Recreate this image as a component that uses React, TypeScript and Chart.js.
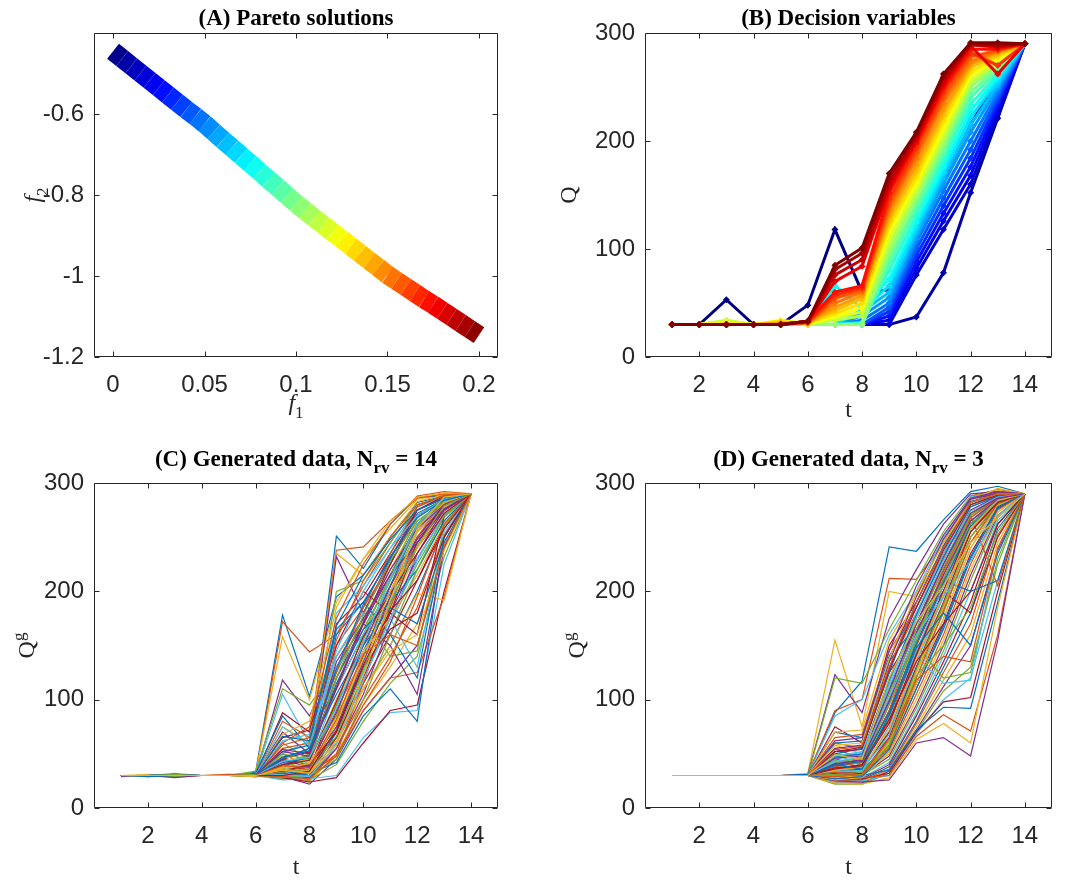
import React, { useEffect, useRef } from "react";
import { Chart, registerables } from "chart.js";

Chart.register(...registerables);

// ---------------- DATA ----------------
// (A) Pareto front: f1 and f2 of the solutions (read along the band)
const PARETO_F1 = [
  0, 0.005, 0.01, 0.015, 0.02, 0.025, 0.03, 0.035, 0.04, 0.045,
  0.05, 0.055, 0.06, 0.065, 0.07, 0.075, 0.08, 0.085, 0.09, 0.095,
  0.1, 0.105, 0.11, 0.115, 0.12, 0.125, 0.13, 0.135, 0.14, 0.145,
  0.15, 0.155, 0.16, 0.165, 0.17, 0.175, 0.18, 0.185, 0.19, 0.195, 0.2,
];
const PARETO_F2 = [
  -0.445, -0.463, -0.481, -0.499, -0.517, -0.535, -0.553, -0.571, -0.589, -0.606,
  -0.624, -0.644, -0.664, -0.683, -0.703, -0.722, -0.742, -0.762, -0.781, -0.801,
  -0.821, -0.839, -0.857, -0.874, -0.892, -0.909, -0.927, -0.944, -0.962, -0.979,
  -0.997, -1.012, -1.027, -1.042, -1.057, -1.071, -1.086, -1.101, -1.116, -1.131, -1.146,
];

const A_X_TICKS = [0, 0.05, 0.1, 0.15, 0.2];
const A_Y_TICKS = [-1.2, -1, -0.8, -0.6];
const T_STEPS = [1, 2, 3, 4, 5, 6, 7, 8, 9, 10, 11, 12, 13, 14];
const T_TICKS = [2, 4, 6, 8, 10, 12, 14];
const Q_TICKS = [0, 100, 200, 300];

// (B) Decision variables, ordered from the first (blue) to the last (dark red) Pareto solution
const DECISION_Q = [
  [30, 30, 53, 30, 30, 48, 118, 60, 62, 110, 165, 215, 258, 290],
  [30, 30, 30, 30, 30, 30, 30, 30, 30, 37, 78, 152, 221, 290],
  [30, 30, 30, 30, 30, 30, 30, 30, 30, 76, 118, 160, 225, 290],
  [30, 30, 30, 30, 30, 30, 30, 30, 34, 82, 126, 168, 229, 290],
  [30, 30, 30, 30, 30, 30, 30, 30, 38, 88, 133, 176, 233, 290],
  [30, 30, 30, 30, 30, 30, 30, 30, 42, 94, 140, 184, 237, 290],
  [30, 30, 30, 30, 30, 30, 30, 30, 46, 100, 147, 192, 241, 290],
  [30, 30, 30, 30, 30, 30, 30, 34, 50, 106, 154, 200, 245, 290],
  [30, 30, 30, 30, 30, 30, 30, 38, 55, 110, 160, 208, 249, 290],
  [30, 30, 30, 30, 30, 30, 30, 42, 60, 115, 166, 215, 252, 290],
  [30, 30, 30, 30, 30, 30, 30, 44, 66, 120, 171, 222, 256, 290],
  [30, 30, 30, 30, 30, 30, 66, 45, 72, 125, 176, 228, 259, 290],
  [30, 30, 30, 30, 30, 30, 30, 32, 80, 131, 182, 234, 262, 290],
  [30, 30, 31, 30, 30, 30, 30, 30, 86, 137, 187, 240, 265, 290],
  [30, 30, 32, 30, 30, 30, 30, 30, 92, 142, 192, 245, 268, 290],
  [30, 30, 33, 30, 31, 30, 30, 30, 98, 148, 197, 250, 270, 290],
  [30, 30, 34, 30, 32, 30, 34, 38, 104, 152, 202, 254, 272, 290],
  [30, 30, 33, 30, 33, 30, 36, 42, 110, 156, 207, 257, 274, 290],
  [30, 30, 32, 30, 34, 31, 38, 46, 116, 161, 212, 261, 276, 290],
  [30, 30, 31, 30, 33, 31, 40, 50, 121, 166, 218, 264, 278, 290],
  [30, 30, 30, 30, 32, 31, 43, 54, 126, 172, 224, 268, 280, 290],
  [30, 30, 30, 30, 31, 32, 46, 57, 131, 178, 229, 271, 282, 290],
  [30, 30, 30, 30, 30, 32, 50, 60, 136, 184, 235, 274, 283, 290],
  [30, 30, 30, 30, 30, 32, 54, 62, 141, 189, 240, 278, 284, 290],
  [30, 30, 30, 30, 30, 32, 57, 64, 146, 194, 245, 282, 270, 290],
  [30, 30, 30, 30, 30, 33, 60, 66, 152, 198, 249, 285, 285, 290],
  [30, 30, 30, 30, 30, 33, 70, 84, 156, 200, 252, 288, 262, 290],
  [30, 30, 30, 30, 30, 33, 76, 90, 160, 203, 255, 289, 287, 290],
  [30, 30, 30, 30, 30, 33, 81, 96, 165, 206, 259, 290, 289, 290],
  [30, 30, 30, 30, 30, 33, 85, 101, 170, 208, 262, 291, 291, 290],
];

// (C) Generated data, N_rv = 14
const GEN_Q_NRV14 = [
  [30, 30, 30, 30, 30, 33, 178, 103, 195, 215, 250, 282, 288, 290],
  [30, 30, 29, 30, 30, 31, 172, 144, 160, 205, 245, 280, 286, 290],
  [30, 31, 30, 30, 31, 32, 158, 100, 190, 230, 258, 285, 289, 290],
  [29, 30, 31, 30, 30, 30, 118, 85, 140, 180, 225, 270, 285, 290],
  [30, 30, 30, 30, 30, 34, 110, 95, 130, 170, 215, 262, 284, 290],
  [30, 30, 32, 30, 30, 31, 105, 60, 120, 165, 212, 258, 283, 290],
  [30, 30, 30, 30, 30, 30, 88, 70, 110, 160, 205, 255, 280, 290],
  [30, 30, 31, 30, 30, 32, 85, 55, 251, 221, 262, 287, 288, 290],
  [30, 30, 30, 30, 31, 30, 80, 65, 238, 241, 265, 286, 290, 290],
  [30, 29, 30, 30, 30, 30, 75, 60, 235, 215, 250, 283, 289, 290],
  [30, 30, 30, 30, 30, 31, 70, 50, 232, 180, 230, 275, 287, 290],
  [30, 30, 29, 30, 30, 29, 60, 45, 200, 210, 245, 280, 288, 290],
  [30, 30, 30, 30, 30, 30, 55, 40, 180, 205, 240, 278, 287, 290],
  [30, 30, 31, 30, 30, 30, 50, 38, 170, 195, 235, 275, 286, 290],
  [30, 30, 30, 30, 30, 30, 45, 40, 160, 190, 230, 272, 285, 290],
  [30, 30, 30, 30, 30, 31, 42, 35, 150, 185, 225, 270, 284, 290],
  [30, 30, 30, 30, 30, 30, 40, 45, 140, 175, 220, 265, 283, 290],
  [30, 30, 28, 30, 30, 30, 38, 48, 130, 170, 215, 262, 282, 290],
  [30, 30, 30, 30, 30, 30, 36, 42, 120, 165, 210, 258, 281, 290],
  [30, 30, 30, 30, 30, 30, 35, 40, 110, 160, 205, 255, 280, 290],
  [30, 30, 30, 30, 30, 29, 33, 36, 100, 150, 200, 250, 278, 290],
  [30, 30, 31, 30, 30, 30, 32, 34, 95, 145, 195, 245, 276, 290],
  [30, 30, 30, 30, 30, 30, 34, 38, 90, 140, 190, 240, 274, 290],
  [30, 30, 30, 30, 30, 30, 31, 33, 85, 135, 185, 235, 272, 290],
  [30, 30, 30, 30, 30, 30, 30, 32, 80, 130, 180, 230, 270, 290],
  [30, 30, 30, 30, 30, 29, 30, 30, 75, 125, 175, 225, 268, 290],
  [30, 30, 30, 30, 30, 30, 28, 30, 70, 120, 170, 220, 265, 290],
  [30, 30, 30, 30, 30, 30, 27, 28, 65, 115, 160, 210, 262, 290],
  [30, 30, 30, 30, 30, 30, 28, 26, 60, 110, 150, 200, 258, 290],
  [30, 30, 30, 30, 30, 30, 30, 25, 55, 100, 140, 185, 252, 290],
  [30, 30, 30, 30, 30, 29, 29, 24, 50, 95, 130, 170, 245, 290],
  [30, 30, 30, 30, 30, 30, 29, 22, 45, 90, 120, 150, 240, 290],
  [30, 30, 30, 30, 30, 30, 27, 26, 40, 80, 115, 140, 232, 290],
  [30, 30, 30, 30, 30, 30, 26, 27, 30, 65, 88, 90, 225, 290],
  [30, 30, 30, 30, 30, 30, 28, 24, 28, 60, 90, 95, 200, 290],
  [30, 30, 30, 30, 30, 30, 30, 32, 42, 85, 110, 80, 250, 290],
  [30, 30, 30, 30, 30, 30, 30, 33, 48, 90, 120, 125, 195, 290],
  [30, 30, 30, 30, 30, 30, 30, 35, 55, 110, 150, 198, 192, 290],
  [30, 30, 30, 30, 30, 30, 40, 48, 120, 170, 150, 105, 240, 290],
  [30, 30, 30, 30, 30, 30, 45, 55, 125, 175, 140, 145, 260, 290],
  [30, 30, 30, 30, 30, 30, 50, 62, 140, 180, 175, 130, 255, 290],
  [30, 30, 30, 30, 30, 30, 65, 72, 150, 200, 180, 160, 270, 290],
  [30, 30, 30, 30, 30, 30, 52, 58, 165, 190, 160, 120, 250, 290],
  [30, 30, 30, 30, 30, 31, 60, 75, 175, 225, 262, 288, 292, 290],
  [30, 30, 30, 30, 30, 30, 68, 80, 185, 230, 265, 287, 291, 290],
  [30, 30, 30, 30, 30, 30, 33, 40, 75, 135, 195, 250, 280, 290],
  [30, 30, 31, 30, 30, 31, 38, 44, 95, 160, 215, 268, 286, 290],
  [30, 30, 30, 30, 30, 30, 30, 35, 60, 125, 190, 255, 283, 290],
  [30, 30, 30, 30, 30, 30, 45, 52, 110, 170, 225, 275, 288, 290],
  [30, 29, 30, 30, 30, 30, 36, 30, 70, 140, 205, 262, 286, 290],
  [30, 30, 30, 30, 30, 30, 55, 60, 125, 185, 235, 278, 289, 290],
  [30, 30, 30, 30, 30, 30, 48, 42, 100, 150, 200, 240, 278, 290],
  [30, 30, 30, 30, 30, 30, 32, 28, 55, 105, 170, 235, 276, 290],
  [30, 30, 30, 30, 30, 30, 40, 50, 85, 155, 210, 260, 284, 290],
  [30, 30, 30, 30, 30, 30, 62, 68, 130, 160, 200, 230, 270, 290],
  [30, 30, 30, 30, 30, 30, 35, 38, 65, 120, 180, 245, 280, 290],
  [30, 30, 30, 30, 30, 30, 42, 46, 115, 165, 190, 220, 265, 290],
  [30, 30, 30, 30, 30, 30, 30, 30, 50, 115, 185, 250, 285, 290],
  [30, 30, 30, 30, 30, 30, 38, 34, 80, 145, 175, 215, 262, 290],
  [30, 30, 30, 30, 30, 30, 52, 48, 135, 175, 215, 245, 275, 290],
  [30, 30, 30, 30, 30, 30, 28, 30, 45, 100, 160, 220, 270, 290],
  [30, 30, 30, 30, 30, 30, 75, 58, 145, 200, 240, 270, 284, 290],
  [30, 30, 30, 30, 30, 30, 34, 40, 70, 130, 165, 180, 250, 290],
  [30, 30, 30, 30, 30, 30, 46, 55, 105, 150, 185, 170, 245, 290],
  [30, 30, 30, 30, 30, 30, 58, 65, 155, 210, 250, 280, 288, 290],
  [30, 30, 30, 30, 30, 30, 36, 33, 62, 110, 145, 160, 238, 290],
  [30, 30, 30, 30, 30, 30, 44, 38, 88, 150, 205, 248, 276, 290],
  [30, 30, 30, 30, 30, 30, 50, 45, 120, 178, 228, 265, 282, 290],
  [30, 30, 30, 30, 30, 30, 31, 29, 58, 118, 175, 228, 272, 290],
  [30, 30, 30, 30, 30, 30, 40, 44, 98, 158, 198, 235, 272, 290],
  [30, 30, 30, 30, 30, 30, 66, 62, 168, 215, 248, 275, 286, 290],
  [30, 30, 30, 30, 30, 30, 29, 27, 48, 95, 135, 195, 262, 290],
  [30, 30, 30, 30, 30, 30, 37, 41, 78, 138, 200, 255, 282, 290],
  [30, 30, 30, 30, 30, 30, 54, 50, 112, 172, 220, 258, 280, 290],
  [30, 30, 30, 30, 30, 30, 33, 36, 66, 128, 188, 242, 279, 290],
  [30, 30, 30, 30, 30, 30, 43, 47, 92, 152, 212, 262, 285, 290],
  [30, 30, 30, 30, 30, 30, 30, 34, 72, 132, 182, 210, 258, 290],
  [30, 30, 30, 30, 30, 30, 47, 53, 128, 188, 232, 268, 284, 290],
  [30, 30, 30, 30, 30, 30, 39, 37, 82, 142, 160, 150, 242, 290],
  [30, 30, 30, 30, 30, 30, 35, 32, 58, 122, 192, 258, 287, 290],
];

// (D) Generated data, N_rv = 3
const GEN_Q_NRV3 = [
  [30, 30, 30, 30, 30, 31, 88, 117, 241, 237, 266, 292, 297, 290],
  [30, 30, 30, 30, 30, 31, 90, 100, 212, 211, 245, 288, 294, 290],
  [30, 30, 30, 30, 30, 32, 155, 75, 200, 195, 240, 286, 293, 290],
  [30, 30, 30, 30, 30, 31, 123, 88, 175, 220, 262, 290, 292, 290],
  [30, 30, 30, 30, 30, 30, 120, 115, 165, 210, 255, 288, 291, 290],
  [30, 30, 30, 30, 30, 30, 85, 100, 160, 200, 250, 287, 290, 290],
  [30, 30, 30, 30, 30, 30, 75, 60, 150, 190, 240, 285, 290, 290],
  [30, 30, 30, 30, 30, 31, 70, 65, 140, 185, 235, 282, 289, 290],
  [30, 30, 30, 30, 30, 30, 60, 55, 130, 180, 230, 280, 288, 290],
  [30, 30, 30, 30, 30, 30, 58, 50, 120, 175, 225, 278, 288, 290],
  [30, 30, 30, 30, 30, 30, 55, 45, 110, 170, 220, 275, 287, 290],
  [30, 30, 30, 30, 30, 30, 50, 48, 100, 160, 215, 272, 286, 290],
  [30, 30, 30, 30, 30, 30, 48, 42, 95, 155, 210, 268, 285, 290],
  [30, 30, 30, 30, 30, 30, 45, 40, 90, 150, 205, 265, 284, 290],
  [30, 30, 30, 30, 30, 30, 42, 38, 85, 145, 200, 262, 283, 290],
  [30, 30, 30, 30, 30, 30, 40, 42, 80, 140, 195, 258, 282, 290],
  [30, 30, 30, 30, 30, 30, 38, 36, 75, 135, 190, 255, 281, 290],
  [30, 30, 30, 30, 30, 30, 36, 35, 70, 130, 185, 250, 280, 290],
  [30, 30, 30, 30, 30, 30, 35, 38, 65, 125, 180, 245, 279, 290],
  [30, 30, 30, 30, 30, 30, 33, 34, 60, 120, 175, 240, 278, 290],
  [30, 30, 30, 30, 30, 30, 32, 33, 58, 115, 170, 235, 277, 290],
  [30, 30, 30, 30, 30, 30, 34, 36, 55, 110, 165, 230, 276, 290],
  [30, 30, 30, 30, 30, 30, 31, 32, 52, 105, 160, 225, 275, 290],
  [30, 30, 30, 30, 30, 30, 30, 31, 50, 100, 155, 220, 273, 290],
  [30, 30, 30, 30, 30, 30, 30, 30, 48, 95, 150, 215, 270, 290],
  [30, 30, 30, 30, 30, 30, 29, 30, 45, 92, 145, 210, 268, 290],
  [30, 30, 30, 30, 30, 30, 28, 28, 42, 88, 140, 200, 265, 290],
  [30, 30, 30, 30, 30, 30, 27, 27, 40, 85, 135, 190, 262, 290],
  [30, 30, 30, 30, 30, 30, 26, 26, 38, 80, 130, 180, 258, 290],
  [30, 30, 30, 30, 30, 30, 25, 25, 36, 78, 125, 170, 252, 290],
  [30, 30, 30, 30, 30, 30, 24, 24, 35, 75, 118, 160, 245, 290],
  [30, 30, 30, 30, 30, 30, 23, 23, 34, 72, 112, 150, 238, 290],
  [30, 30, 30, 30, 30, 30, 22, 22, 32, 70, 108, 130, 225, 290],
  [30, 30, 30, 30, 30, 30, 24, 25, 30, 68, 100, 120, 210, 290],
  [30, 30, 30, 30, 30, 30, 26, 27, 32, 70, 98, 102, 200, 290],
  [30, 30, 30, 30, 30, 30, 28, 30, 35, 72, 93, 92, 190, 290],
  [30, 30, 30, 30, 30, 30, 30, 28, 30, 66, 86, 71, 160, 290],
  [30, 30, 30, 30, 30, 30, 23, 22, 28, 63, 78, 60, 185, 290],
  [30, 30, 30, 30, 30, 30, 25, 24, 26, 60, 65, 48, 155, 290],
  [30, 30, 30, 30, 30, 30, 40, 45, 110, 150, 120, 125, 230, 290],
  [30, 30, 30, 30, 30, 30, 45, 50, 115, 140, 115, 118, 240, 290],
  [30, 30, 30, 30, 30, 30, 52, 56, 125, 165, 200, 180, 250, 290],
  [30, 30, 30, 30, 30, 30, 60, 62, 135, 170, 210, 200, 210, 290],
  [30, 30, 30, 30, 30, 30, 65, 68, 145, 185, 235, 270, 205, 290],
  [30, 30, 30, 30, 30, 30, 70, 72, 155, 198, 245, 284, 295, 290],
  [30, 30, 30, 30, 30, 30, 40, 45, 100, 170, 225, 275, 288, 290],
  [30, 30, 30, 30, 30, 30, 35, 40, 85, 155, 215, 270, 287, 290],
  [30, 30, 30, 30, 30, 30, 45, 52, 115, 180, 235, 280, 289, 290],
  [30, 30, 30, 30, 30, 30, 32, 36, 70, 140, 200, 262, 285, 290],
  [30, 30, 30, 30, 30, 30, 50, 55, 125, 190, 242, 283, 290, 290],
  [30, 30, 30, 30, 30, 30, 38, 42, 90, 160, 218, 272, 287, 290],
  [30, 30, 30, 30, 30, 30, 28, 30, 60, 125, 185, 250, 282, 290],
  [30, 30, 30, 30, 30, 30, 55, 58, 135, 195, 248, 285, 291, 290],
  [30, 30, 30, 30, 30, 30, 42, 46, 105, 165, 222, 270, 286, 290],
  [30, 30, 30, 30, 30, 30, 34, 34, 75, 145, 205, 265, 285, 290],
  [30, 30, 30, 30, 30, 30, 30, 32, 65, 130, 190, 255, 283, 290],
  [30, 30, 30, 30, 30, 30, 47, 50, 118, 178, 232, 278, 288, 290],
  [30, 30, 30, 30, 30, 30, 36, 38, 80, 150, 210, 268, 286, 290],
  [30, 30, 30, 30, 30, 30, 26, 28, 52, 115, 175, 240, 280, 290],
  [30, 30, 30, 30, 30, 30, 62, 65, 145, 205, 252, 286, 292, 290],
  [30, 30, 30, 30, 30, 30, 44, 40, 95, 158, 212, 262, 284, 290],
  [30, 30, 30, 30, 30, 30, 33, 35, 68, 135, 195, 258, 284, 290],
  [30, 30, 30, 30, 30, 30, 52, 54, 128, 185, 238, 280, 289, 290],
  [30, 30, 30, 30, 30, 30, 39, 43, 88, 152, 208, 260, 283, 290],
  [30, 30, 30, 30, 30, 30, 29, 31, 56, 120, 182, 245, 281, 290],
  [30, 30, 30, 30, 30, 30, 58, 60, 138, 198, 245, 282, 290, 290],
  [30, 30, 30, 30, 30, 30, 41, 44, 98, 162, 215, 265, 285, 290],
  [30, 30, 30, 30, 30, 30, 31, 33, 62, 128, 188, 250, 282, 290],
  [30, 30, 30, 30, 30, 30, 48, 52, 112, 175, 228, 274, 287, 290],
  [30, 30, 30, 30, 30, 30, 37, 39, 78, 142, 200, 255, 282, 290],
  [30, 30, 30, 30, 30, 30, 27, 29, 54, 110, 168, 232, 278, 290],
  [30, 30, 30, 30, 30, 30, 54, 57, 130, 190, 240, 282, 290, 290],
  [30, 30, 30, 30, 30, 30, 35, 37, 72, 138, 198, 258, 284, 290],
  [30, 30, 30, 30, 30, 30, 46, 48, 108, 170, 225, 272, 286, 290],
  [30, 30, 30, 30, 30, 30, 30, 31, 58, 122, 150, 185, 255, 290],
  [30, 30, 30, 30, 30, 30, 43, 47, 102, 160, 195, 228, 270, 290],
  [30, 30, 30, 30, 30, 30, 36, 40, 82, 135, 170, 200, 262, 290],
  [30, 30, 30, 30, 30, 30, 40, 36, 86, 148, 180, 150, 235, 290],
  [30, 30, 30, 30, 30, 30, 33, 30, 64, 118, 140, 135, 240, 290],
  [30, 30, 30, 30, 30, 30, 49, 45, 120, 172, 205, 245, 268, 290],
];

const MATLAB_COLORS = ["#0072BD", "#D95319", "#EDB120", "#7E2F8E", "#77AC30", "#4DBEEE", "#A2142F"];

// ---------------- STYLE HELPERS ----------------
const SANS = "'Liberation Sans', Arial, Helvetica, sans-serif";
const SERIF = "'Liberation Serif', 'Times New Roman', Times, serif";
const AXIS_COLOR = "#262626";

function jet(v: number): string {
  const c = (x: number) => Math.max(0, Math.min(1, x));
  const r = c(1.5 - Math.abs(4 * v - 3));
  const g = c(1.5 - Math.abs(4 * v - 2));
  const b = c(1.5 - Math.abs(4 * v - 1));
  return `rgb(${Math.round(r * 255)},${Math.round(g * 255)},${Math.round(b * 255)})`;
}

type Piece = { text: string; mode?: "sub" | "sup"; italic?: boolean };

function drawRich(
  ctx: CanvasRenderingContext2D,
  pieces: Piece[],
  cx: number,
  cy: number,
  size: number,
  bold: boolean,
  rotate: boolean,
  color: string
) {
  ctx.save();
  ctx.translate(cx, cy);
  if (rotate) ctx.rotate(-Math.PI / 2);
  const fontOf = (p: Piece) =>
    `${p.italic ? "italic " : ""}${bold ? "bold " : ""}${p.mode ? Math.round(size * 0.72) : size}px ${SERIF}`;
  let total = 0;
  const widths = pieces.map((p) => {
    ctx.font = fontOf(p);
    const w = ctx.measureText(p.text).width;
    total += w;
    return w;
  });
  let x = -total / 2;
  ctx.textBaseline = "alphabetic";
  ctx.textAlign = "left";
  ctx.fillStyle = color;
  const base = size * 0.33;
  pieces.forEach((p, i) => {
    ctx.font = fontOf(p);
    const dy = p.mode === "sub" ? size * 0.32 : p.mode === "sup" ? -size * 0.42 : 0;
    ctx.fillText(p.text, x, base + dy);
    x += widths[i];
  });
  ctx.restore();
}

type PanelProps = {
  frame: [number, number, number, number];
  box: [number, number, number, number];
  chartType: "line" | "scatter";
  datasets: any[];
  xRange: [number, number];
  xTicks: number[];
  yRange: [number, number];
  yTicks: number[];
  title: Piece[];
  titleY: number;
  xLabel: Piece[];
  xLabelY: number;
  yLabel: Piece[];
  yLabelX: number;
};

const X_AXIS_H = 40;

function Panel(props: PanelProps) {
  const ref = useRef<HTMLCanvasElement>(null);
  const { frame, box } = props;
  useEffect(() => {
    if (!ref.current) return;
    const [fl, ft, fw, fh] = frame;
    const [bl, bt, br, bb] = box;
    const decor = {
      id: "decor",
      afterDraw(chart: any) {
        const ctx: CanvasRenderingContext2D = chart.ctx;
        const a = chart.chartArea;
        const xs = chart.scales.x;
        const ys = chart.scales.y;
        ctx.save();
        ctx.strokeStyle = AXIS_COLOR;
        ctx.lineWidth = 1;
        ctx.beginPath();
        const L = Math.round(a.left) + 0.5;
        const R = Math.round(a.right) - 0.5;
        const T = Math.round(a.top) + 0.5;
        const B = Math.round(a.bottom) - 0.5;
        ctx.rect(L, T, R - L, B - T);
        const tl = 5;
        props.xTicks.forEach((v) => {
          const px = Math.round(xs.getPixelForValue(v)) + 0.5;
          ctx.moveTo(px, B);
          ctx.lineTo(px, B - tl);
          ctx.moveTo(px, T);
          ctx.lineTo(px, T + tl);
        });
        props.yTicks.forEach((v) => {
          const py = Math.round(ys.getPixelForValue(v)) + 0.5;
          ctx.moveTo(L, py);
          ctx.lineTo(L + tl, py);
          ctx.moveTo(R, py);
          ctx.lineTo(R - tl, py);
        });
        ctx.stroke();
        ctx.restore();
        const cxBox = (bl + br) / 2 - fl;
        const cyBox = (bt + bb) / 2 - ft;
        drawRich(ctx, props.title, cxBox, props.titleY - ft, 23, true, false, "#000");
        drawRich(ctx, props.xLabel, cxBox, props.xLabelY - ft, 24, false, false, AXIS_COLOR);
        drawRich(ctx, props.yLabel, props.yLabelX - fl, cyBox, 24, false, true, AXIS_COLOR);
      },
    };
    const chart = new Chart(ref.current, {
      type: props.chartType as any,
      data: { datasets: props.datasets },
      options: {
        responsive: false,
        animation: false,
        events: [],
        layout: {
          padding: {
            left: 0,
            top: bt - ft,
            right: fl + fw - br,
            bottom: ft + fh - bb - X_AXIS_H,
          },
        },
        plugins: {
          legend: { display: false },
          tooltip: { enabled: false },
          title: { display: false },
        },
        scales: {
          x: {
            type: "linear",
            min: props.xRange[0],
            max: props.xRange[1],
            afterBuildTicks: (s: any) => {
              s.ticks = props.xTicks.map((v) => ({ value: v }));
            },
            afterFit: (s: any) => {
              s.height = X_AXIS_H;
            },
            grid: { display: false, drawTicks: false },
            border: { display: false },
            ticks: {
              autoSkip: false,
              maxRotation: 0,
              padding: 14,
              color: AXIS_COLOR,
              font: { family: SANS, size: 24 },
              callback: (v: any) => String(v),
            },
          },
          y: {
            type: "linear",
            min: props.yRange[0],
            max: props.yRange[1],
            afterBuildTicks: (s: any) => {
              s.ticks = props.yTicks.map((v) => ({ value: v }));
            },
            afterFit: (s: any) => {
              s.width = bl - fl;
            },
            grid: { display: false, drawTicks: false },
            border: { display: false },
            ticks: {
              autoSkip: false,
              padding: 10,
              color: AXIS_COLOR,
              font: { family: SANS, size: 24 },
              callback: (v: any) => String(v),
            },
          },
        },
      } as any,
      plugins: [decor as any],
    });
    return () => chart.destroy();
  }, []);
  return (
    <canvas
      ref={ref}
      width={frame[2]}
      height={frame[3]}
      style={{ position: "absolute", left: frame[0], top: frame[1], width: frame[2], height: frame[3] }}
    />
  );
}

function paretoDatasets() {
  const n = PARETO_F1.length;
  return [
    {
      data: PARETO_F1.map((f, i) => ({ x: f, y: PARETO_F2[i] })),
      showLine: true,
      borderWidth: 19,
      borderCapStyle: "butt",
      borderJoinStyle: "round",
      borderColor: jet(0),
      segment: {
        borderColor: (c: any) => jet((c.p0DataIndex + 0.5) / (n - 1)),
      },
      pointRadius: 0,
      tension: 0,
    },
  ];
}

function decisionDatasets() {
  const n = DECISION_Q.length;
  return DECISION_Q.map((row, k) => {
    const col = jet(k / (n - 1));
    return {
      data: row.map((q, i) => ({ x: T_STEPS[i], y: q })),
      borderColor: col,
      backgroundColor: col,
      borderWidth: 3,
      pointStyle: "rectRot",
      pointRadius: 3.5,
      pointBorderWidth: 0,
      pointBackgroundColor: col,
      tension: 0,
      fill: false,
      order: n - 1 - k,
    };
  });
}

function generatedDatasets(rows: number[][]) {
  return rows.map((row, k) => ({
    data: row.map((q, i) => ({ x: T_STEPS[i], y: q })),
    borderColor: MATLAB_COLORS[k % MATLAB_COLORS.length],
    borderWidth: 1.2,
    pointRadius: 0,
    tension: 0,
    fill: false,
    order: rows.length - k,
  }));
}

export default function App() {
  return (
    <div
      style={{
        position: "absolute",
        left: 0,
        top: 0,
        width: 1065,
        height: 883,
        background: "#ffffff",
        overflow: "hidden",
      }}
    >
      <Panel
        frame={[0, 0, 540, 420]}
        box={[94, 33, 498, 357]}
        chartType="scatter"
        datasets={paretoDatasets()}
        xRange={[-0.0104, 0.2104]}
        xTicks={A_X_TICKS}
        yRange={[-1.2, -0.4]}
        yTicks={A_Y_TICKS}
        title={[{ text: "(A) Pareto solutions" }]}
        titleY={17}
        xLabel={[{ text: "f", italic: true }, { text: "1", mode: "sub" }]}
        xLabelY={402}
        yLabel={[{ text: "f", italic: true }, { text: "2", mode: "sub" }]}
        yLabelX={32}
      />
      <Panel
        frame={[540, 0, 525, 420]}
        box={[645, 33, 1052, 357]}
        chartType="line"
        datasets={decisionDatasets()}
        xRange={[0, 15]}
        xTicks={T_TICKS}
        yRange={[0, 300]}
        yTicks={Q_TICKS}
        title={[{ text: "(B) Decision variables" }]}
        titleY={17}
        xLabel={[{ text: "t" }]}
        xLabelY={409}
        yLabel={[{ text: "Q" }]}
        yLabelX={568}
      />
      <Panel
        frame={[0, 420, 540, 463]}
        box={[94, 483, 498, 808]}
        chartType="line"
        datasets={generatedDatasets(GEN_Q_NRV14)}
        xRange={[0, 15]}
        xTicks={T_TICKS}
        yRange={[0, 300]}
        yTicks={Q_TICKS}
        title={[{ text: "(C) Generated data, N" }, { text: "rv", mode: "sub" }, { text: " = 14" }]}
        titleY={458}
        xLabel={[{ text: "t" }]}
        xLabelY={866}
        yLabel={[{ text: "Q" }, { text: "g", mode: "sup" }]}
        yLabelX={26}
      />
      <Panel
        frame={[540, 420, 525, 463]}
        box={[645, 483, 1052, 808]}
        chartType="line"
        datasets={generatedDatasets(GEN_Q_NRV3)}
        xRange={[0, 15]}
        xTicks={T_TICKS}
        yRange={[0, 300]}
        yTicks={Q_TICKS}
        title={[{ text: "(D) Generated data, N" }, { text: "rv", mode: "sub" }, { text: " = 3" }]}
        titleY={458}
        xLabel={[{ text: "t" }]}
        xLabelY={866}
        yLabel={[{ text: "Q" }, { text: "g", mode: "sup" }]}
        yLabelX={576}
      />
    </div>
  );
}
